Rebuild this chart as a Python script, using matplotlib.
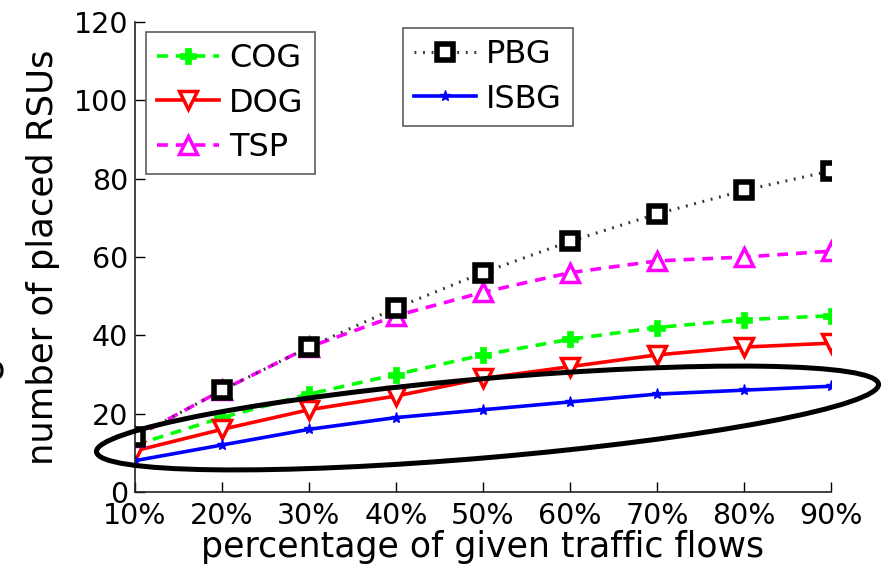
import matplotlib
matplotlib.use("Agg")
import matplotlib.pyplot as plt
from matplotlib.patches import Ellipse
from matplotlib.transforms import IdentityTransform

# ---- data ----
x_pct = [10, 20, 30, 40, 50, 60, 70, 80, 90]
x_labels = ["10%", "20%", "30%", "40%", "50%", "60%", "70%", "80%", "90%"]
y_ticks = [0, 20, 40, 60, 80, 100, 120]

cog = [12, 19, 25, 30, 35, 39, 42, 44, 45]
dog = [10.5, 16, 21, 24.5, 29, 32, 35, 37, 38]
tsp = [14, 26, 37, 45, 51, 56, 59, 60, 61.5]
pbg = [14, 26, 37, 47, 56, 64, 71, 77, 82]
isbg = [8, 12, 16, 19, 21, 23, 25, 26, 27]

plt.rcParams['font.family'] = ['DejaVu Sans']

W, H = 885, 577
fig = plt.figure(figsize=(W / 100, H / 100), dpi=100)
ax = fig.add_axes([135 / W, 1 - 492 / H, (831 - 135) / W, (492 - 22) / H])

h_cog, = ax.plot(x_pct, cog, color='#00ff00', ls=(0, (3, 2.2)), lw=2.6,
                 marker='P', ms=11, mec='#00ff00', mfc='#00ff00', mew=0.5, label='COG')
h_dog, = ax.plot(x_pct, dog, color='#ff0000', ls='-', lw=2.6,
                 marker='v', ms=13, mec='#ff0000', mfc='white', mew=2.5, label='DOG')
h_tsp, = ax.plot(x_pct, tsp, color='#ff00ff', ls=(0, (3, 2.2)), lw=2.6,
                 marker='^', ms=13, mec='#ff00ff', mfc='white', mew=2.5, label='TSP')
h_pbg, = ax.plot(x_pct, pbg, color='#333333', ls=(0, (0.6, 2.2)), lw=2.2,
                 marker='s', ms=12, mec='black', mfc='white', mew=4, label='PBG')
h_isbg, = ax.plot(x_pct, isbg, color='#0000ff', ls='-', lw=2.6,
                  marker='*', ms=8, mec='#0000ff', mfc='#0000ff', label='ISBG')

ax.set_xlim(10, 90)
ax.set_ylim(0, 120)
ax.set_xticks(x_pct)
ax.set_xticklabels(x_labels)
ax.set_yticks(y_ticks)
ax.tick_params(direction='in', length=7, width=1, labelsize=20.5, colors='black')
ax.tick_params(axis='x', pad=7)
ax.tick_params(axis='y', pad=5)
for s in ['top', 'right']:
    ax.spines[s].set_visible(False)
for s in ['left', 'bottom']:
    ax.spines[s].set_linewidth(1.2)
    ax.spines[s].set_color('#222222')

ax.set_xlabel('percentage of given traffic flows', fontsize=25, labelpad=0)
ax.set_ylabel('number of placed RSUs', fontsize=25.5, labelpad=10)

common = dict(loc='upper left', fontsize=23, frameon=True, fancybox=False,
              edgecolor='#333333', handlelength=1.95, handletextpad=0.3,
              borderpad=0.35, labelspacing=0.42, borderaxespad=0)
leg1 = fig.legend(handles=[h_cog, h_dog, h_tsp],
                  bbox_to_anchor=(146 / W, 1 - 32 / H), **common)
leg1.get_frame().set_linewidth(1.2)
leg2 = fig.legend(handles=[h_pbg, h_isbg],
                  bbox_to_anchor=(403 / W, 1 - 28 / H), **common)
leg2.get_frame().set_linewidth(1.2)

# annotation ellipse (in pixel coordinates)
ell = Ellipse((487.5, H - 418), 785, 79, angle=4.95, fill=False,
              edgecolor='black', lw=3.6, transform=IdentityTransform())
fig.add_artist(ell)

# fragment of a letter cut by the left edge of the picture
fig.text(-6 / W, 1 - 370 / H, 'o', fontsize=24, ha='center', va='center')

fig.savefig('out.png', dpi=100)
